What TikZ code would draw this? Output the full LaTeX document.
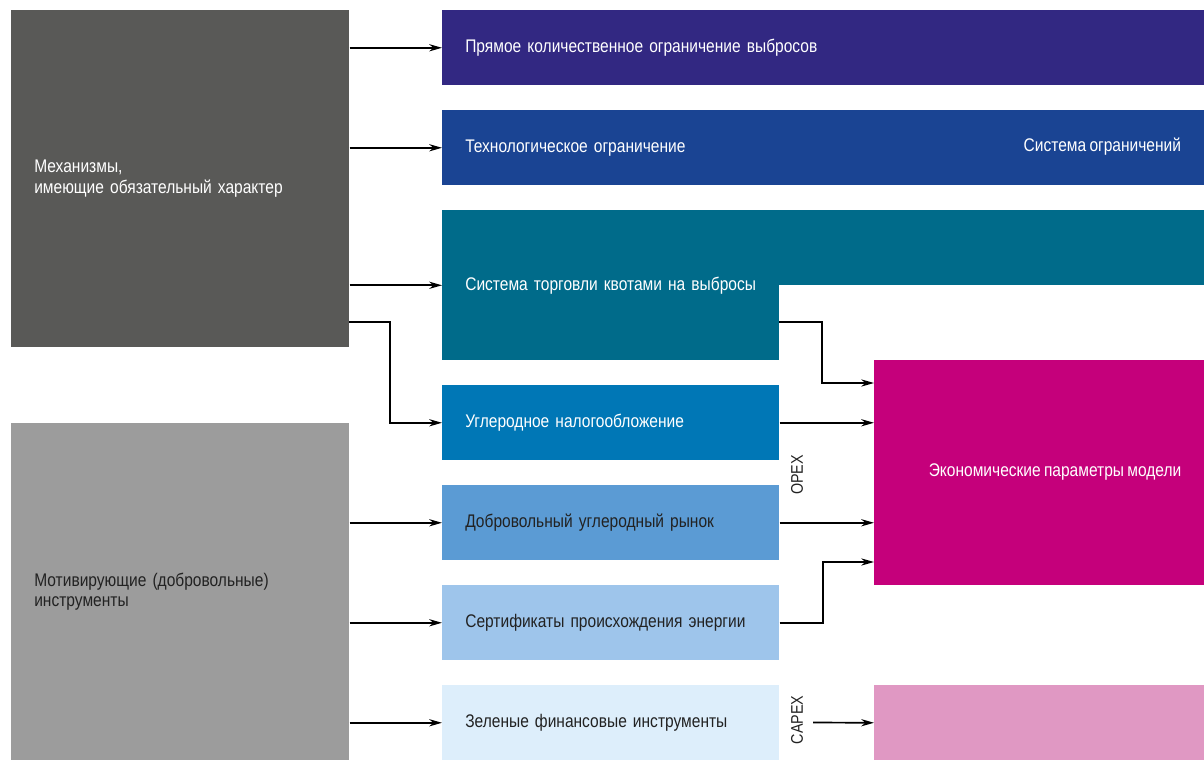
\documentclass[tikz,border=0pt]{standalone}
\usepackage{fontspec}
\setmainfont[FakeStretch=0.85, WordSpace=0.75]{Liberation Sans}
\usepackage{xcolor}
\usepackage{tikz}
\usetikzlibrary{arrows.meta}

\definecolor{mechgrey}{HTML}{595957}
\definecolor{motgrey}{HTML}{9C9C9C}
\definecolor{quotapurple}{HTML}{322882}
\definecolor{techblue}{HTML}{1A4493}
\definecolor{etsteal}{HTML}{006B8A}
\definecolor{taxblue}{HTML}{0077B6}
\definecolor{volblue}{HTML}{5B9BD4}
\definecolor{certblue}{HTML}{9EC5EB}
\definecolor{greenblue}{HTML}{DDEEFB}
\definecolor{econmagenta}{HTML}{C5007B}
\definecolor{capexpink}{HTML}{E098C3}
\definecolor{darktext}{HTML}{222222}

\begin{document}
\begin{tikzpicture}[x=0.025cm, y=-0.025cm]
						\tikzstyle{box}=[rectangle, anchor=north west, inner sep=0pt, inner xsep=0.575cm, align=left, font=\fontsize{13}{14.6}\selectfont]
						\tikzstyle{row}=[box, minimum height=1.875cm]
						\tikzstyle{arr}=[line width=1.2pt, -{Stealth[length=0.32cm, width=0.18cm]}]
						\useasboundingbox (0,0) rectangle (1204,760);
						% left column
						\node[box, fill=mechgrey, text=white, minimum width=8.45cm, minimum height=8.425cm, text width=7.3cm, inner xsep=0.55cm](M) at (11,10) {Механизмы,\\имеющие обязательный характер};
						\node[box, fill=motgrey, text=darktext, minimum width=8.45cm, minimum height=8.425cm, text width=7.3cm, inner xsep=0.55cm](V) at (11,423) {Мотивирующие (добровольные)\\инструменты};
						% instruments
						\node[row, fill=quotapurple, text=white, minimum width=19.05cm, text width=17.9cm](B1) at (442,10) {Прямое количественное ограничение выбросов};
						\node[row, fill=techblue, text=white, minimum width=19.05cm, text width=17.9cm](B2) at (442,110) {Технологическое ограничение};
						\fill[etsteal] (779,210) rectangle (1204,285);
						\node[box, fill=etsteal, text=white, minimum width=8.425cm, minimum height=3.75cm, text width=7.275cm](B3) at (442,210) {\mbox{Система торговли квотами на выбросы}};
						\node[row, fill=taxblue, text=white, minimum width=8.425cm, text width=7.275cm](B4) at (442,385) {Углеродное налогообложение};
						\node[row, fill=volblue, text=darktext, minimum width=8.425cm, text width=7.275cm](B5) at (442,485) {Добровольный углеродный рынок};
						\node[row, fill=certblue, text=darktext, minimum width=8.425cm, text width=7.275cm](B6) at (442,585) {\mbox{Сертификаты происхождения энергии}};
						\node[row, fill=greenblue, text=darktext, minimum width=8.425cm, text width=7.275cm](B7) at (442,685) {Зеленые финансовые инструменты};
						\node[text=white, anchor=east, font=\fontsize{13}{16}\selectfont](limits) at (1186,147) {Система ограничений};
						% results
						\node[box, fill=econmagenta, minimum width=8.25cm, minimum height=5.625cm](E) at (874,360) {};
						\node[text=white, font=\fontsize{13}{16}\selectfont](Etext) at (1055,472) {Экономические параметры модели};
						\node[box, fill=capexpink, minimum width=8.25cm, minimum height=1.875cm](P) at (874,685) {};
						\node[rotate=90, font=\fontsize{12}{14}\selectfont, text=darktext](opex) at (797,475) {OPEX};
						\node[rotate=90, font=\fontsize{12}{14}\selectfont, text=darktext](capex) at (797,720) {CAPEX};
						% connectors
						\coordinate (m4) at (349,322);
						\coordinate (t3) at (779,322);
						\coordinate (e1) at (874,383);
						\coordinate (e4) at (874,562);
						\coordinate (c1) at (813,722.5);
						\draw[arr] (M.east |- B1.west) -- (B1.west);
						\draw[arr] (M.east |- B2.west) -- (B2.west);
						\draw[arr] (M.east |- B3.west) -- (B3.west);
						\draw[arr] (m4) -- ++(41,0) |- (B4.west);
						\draw[arr] (V.east |- B5.west) -- (B5.west);
						\draw[arr] (V.east |- B6.west) -- (B6.west);
						\draw[arr] (V.east |- B7.west) -- (B7.west);
						\draw[arr] (t3) -- ++(43,0) |- (e1);
						\draw[arr] (B4.east) -- (E.west |- B4.east);
						\draw[arr] (B5.east) -- (E.west |- B5.east);
						\draw[arr] (B6.east) -- ++(43,0) |- (e4);
						\draw[arr] (c1) -- (P.west);
					\end{tikzpicture}
\end{document}
